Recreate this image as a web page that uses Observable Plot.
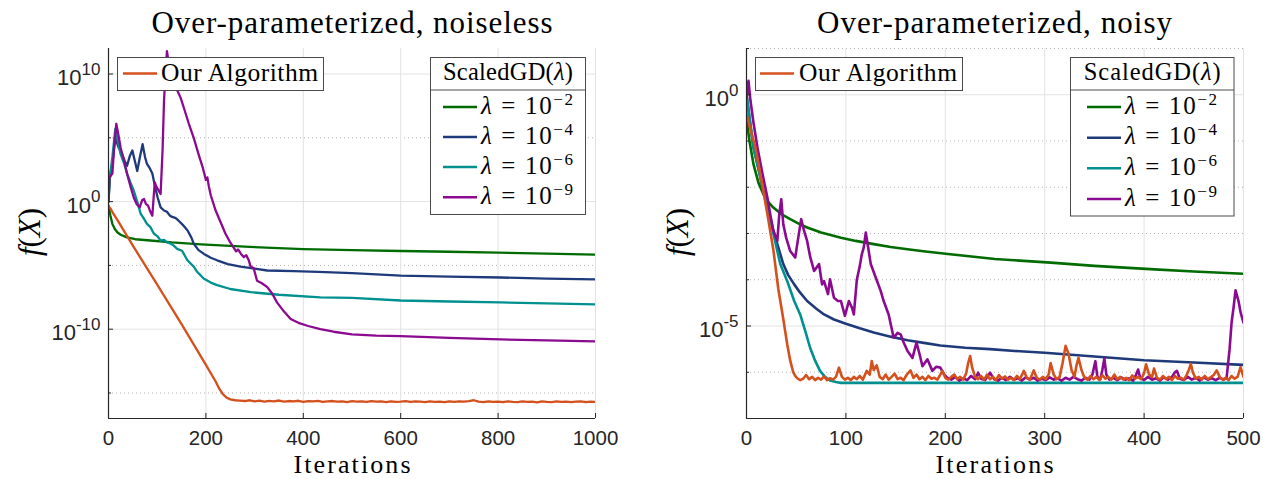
<!DOCTYPE html>
<html>
<head>
<meta charset="utf-8">
<script src="https://cdn.jsdelivr.net/npm/d3@7"></script>
<script src="https://cdn.jsdelivr.net/npm/@observablehq/plot@0.6"></script>
<style>
  html, body { margin: 0; padding: 0; background: #fff; }
  #wrap { position: relative; width: 1270px; height: 479px; overflow: hidden; background: #fff; }
  .panel { position: absolute; top: 0; }
</style>
</head>
<body>
<div id="wrap">
  <div id="left" class="panel" style="left:0px"></div>
  <div id="right" class="panel" style="left:635px"></div>
</div>
<script>
// ---------------- DATA (iteration, log10 f(X)) ----------------
const seriesNames = ["Our Algorithm", "λ = 10^−2", "λ = 10^−4", "λ = 10^−6", "λ = 10^−9"];
const seriesColors = ["#d4501c", "#006b00", "#1f3a7a", "#009090", "#8c0a8f"];

const leftXTicks = [0, 200, 400, 600, 800, 1000];
const leftYTicks = [1e-10, 1, 1e10];
const leftMinorY = [1e-15, 1e-5, 1e5];
const rightXTicks = [0, 100, 200, 300, 400, 500];
const rightYTicks = [1e-5, 1];
const rightMinorY = [1e-6, 1e-4, 1e-3, 1e-2, 1e-1, 10];
const rightMinorTicks = [1e-7, 1e-6, 1e-4, 1e-3, 1e-2, 1e-1, 10];

const leftGreen = [[0,-0.3],[4,-1.1],[8,-1.75],[13,-2.15],[18,-2.4],[25,-2.6],[38,-2.8],[55,-2.95],[86,-3.05],[130,-3.2],[190,-3.35],[290,-3.55],[400,-3.72],[500,-3.8],[600,-3.87],[700,-3.93],[800,-4.0],[900,-4.08],[1000,-4.15]];

const leftBlue = [[0,0],[2,1.5],[4,2.2],[8,3.0],[14,5.0],[20,4.3],[28,3.7],[33,3.2],[38,2.8],[44,3.6],[49,4.0],[54,3.2],[59,2.4],[64,3.4],[70,4.5],[75,3.5],[79,2.95],[85,2.6],[90,2.2],[96,1.1],[101,0.3],[107,-0.45],[114,-0.7],[120,-0.8],[126,-1.1],[131,-1.2],[138,-1.3],[144,-1.5],[152,-1.8],[162,-2.25],[170,-2.8],[175,-3.3],[185,-3.8],[196,-4.1],[210,-4.4],[223,-4.6],[245,-4.9],[271,-5.1],[300,-5.25],[326,-5.4],[380,-5.45],[431,-5.5],[500,-5.6],[600,-5.8],[700,-5.88],[805,-5.95],[900,-6.03],[1000,-6.1]];

const leftTeal = [[0,0],[3,2.0],[8,3.5],[14,5.7],[20,4.6],[25,3.7],[32,3.0],[38,2.2],[45,1.5],[52,0.85],[59,0.0],[66,-0.95],[72,-1.3],[79,-1.75],[86,-2.0],[93,-2.5],[100,-2.7],[107,-3.05],[114,-3.0],[120,-3.2],[128,-3.3],[134,-3.45],[141,-3.7],[151,-3.85],[162,-4.6],[175,-5.1],[182,-5.5],[196,-6.05],[210,-6.35],[223,-6.55],[250,-6.85],[292,-7.1],[350,-7.3],[435,-7.5],[500,-7.55],[600,-7.75],[700,-7.83],[805,-7.9],[900,-7.98],[1000,-8.05]];

const leftPurple = [[0,0],[2,1.9],[8,2.2],[12,4.5],[16,6.1],[20,5.3],[25,4.2],[32,3.2],[38,2.2],[45,1.2],[52,0.3],[58,-0.2],[64,-0.45],[69,0.1],[73,0.2],[77,-0.2],[81,-0.3],[86,-0.8],[90,-1.1],[93,0.5],[95,1.5],[98,1.2],[101,1.0],[104,0.8],[107,0.6],[111,4.0],[114,7.9],[117,10.0],[120,11.8],[124,10.8],[131,9.45],[140,8.8],[148,8.15],[156,7.2],[165,6.1],[175,5.0],[185,3.7],[194,2.6],[200,1.7],[203,1.9],[206,1.2],[210,0.5],[220,-0.7],[230,-1.6],[240,-2.5],[250,-3.2],[257,-3.6],[262,-3.9],[266,-3.75],[272,-4.1],[278,-4.35],[283,-4.2],[288,-4.6],[292,-5.1],[298,-5.2],[305,-6.2],[315,-6.4],[326,-6.7],[336,-7.2],[346,-7.9],[360,-8.6],[374,-9.2],[390,-9.5],[410,-9.75],[435,-10.0],[462,-10.2],[500,-10.4],[550,-10.5],[600,-10.55],[700,-10.68],[805,-10.8],[900,-10.88],[1000,-10.95]];

const leftOurs = [[0,-0.35],[5,-0.6],[10,-0.95],[20,-1.55],[50,-3.45],[100,-6.5],[150,-9.6],[200,-12.8],[220,-14.1],[228,-14.7],[235,-15.1],[242,-15.35],[250,-15.5],[260,-15.57],[270,-15.6],
[280,-15.63],[290,-15.57],[300,-15.65],[310,-15.6],[320,-15.67],[330,-15.62],[340,-15.65],[350,-15.59],[360,-15.68],[370,-15.63],[380,-15.65],[390,-15.61],[400,-15.69],[410,-15.64],[420,-15.66],[430,-15.62],[440,-15.7],[450,-15.65],[460,-15.63],[470,-15.68],[480,-15.65],[490,-15.71],[500,-15.64],[510,-15.67],[520,-15.65],[530,-15.7],[540,-15.63],[550,-15.68],[560,-15.66],[570,-15.71],[580,-15.65],[590,-15.69],[600,-15.67],[610,-15.63],[620,-15.7],[630,-15.65],[640,-15.68],[650,-15.72],[660,-15.65],[670,-15.69],[680,-15.67],[690,-15.71],[700,-15.66],[710,-15.7],[720,-15.65],[730,-15.68],[740,-15.63],[750,-15.57],[760,-15.68],[770,-15.71],[780,-15.66],[790,-15.7],[800,-15.67],[810,-15.72],[820,-15.65],[830,-15.69],[840,-15.71],[850,-15.66],[860,-15.7],[870,-15.67],[880,-15.73],[890,-15.65],[900,-15.69],[910,-15.71],[920,-15.66],[930,-15.7],[940,-15.67],[950,-15.72],[960,-15.68],[970,-15.65],[980,-15.71],[990,-15.68],[1000,-15.7]];

const rightGreen = [[0,-0.53],[3,-1.0],[7,-1.5],[12,-1.9],[17,-2.15],[22,-2.32],[27,-2.44],[35,-2.58],[44,-2.69],[52,-2.78],[61,-2.87],[75,-2.98],[95,-3.09],[110,-3.16],[128,-3.23],[145,-3.29],[162,-3.34],[180,-3.39],[205,-3.45],[250,-3.55],[306,-3.63],[350,-3.7],[406,-3.77],[450,-3.82],[500,-3.87]];

const rightBlue = [[0,0],[3,-0.5],[7,-1.14],[12,-1.6],[17,-2.08],[22,-2.5],[27,-2.94],[32,-3.3],[37,-3.66],[42,-3.9],[48,-4.1],[54,-4.28],[61,-4.46],[70,-4.62],[78,-4.75],[88,-4.86],[100,-4.95],[114,-5.05],[128,-5.14],[145,-5.23],[162,-5.31],[180,-5.37],[195,-5.42],[220,-5.47],[245,-5.5],[270,-5.54],[300,-5.58],[350,-5.66],[400,-5.74],[450,-5.79],[500,-5.84]];

const rightTeal = [[0,0],[3,-0.5],[7,-1.14],[12,-1.6],[17,-2.08],[22,-2.5],[27,-3.0],[34,-3.66],[41,-4.03],[48,-4.46],[54,-4.75],[59,-5.1],[64,-5.47],[69,-5.75],[74,-5.97],[79,-6.1],[84,-6.18],[90,-6.21],[95,-6.23],[150,-6.23],[250,-6.23],[350,-6.23],[450,-6.23],[500,-6.23]];

const rightPurple = [[0,-0.09],[2,0.3],[4,-0.13],[7,-0.6],[11,-1.14],[16,-1.7],[21,-2.22],[24,-2.6],[27,-2.94],[31,-3.16],[33,-2.58],[35,-2.26],[37,-2.8],[40,-3.1],[44,-3.38],[49,-3.52],[52,-3.1],[55,-2.69],[58,-2.95],[61,-3.16],[64,-3.5],[68,-3.81],[73,-3.66],[76,-4.1],[78,-4.03],[82,-4.31],[84,-3.99],[88,-4.39],[92,-4.46],[95,-4.46],[99,-4.78],[103,-4.46],[106,-4.6],[108,-4.75],[111,-4.0],[114,-3.7],[116,-3.45],[118,-3.3],[120,-2.98],[122,-3.25],[125,-3.66],[130,-3.95],[135,-4.24],[138,-4.46],[143,-4.75],[148,-5.25],[152,-5.15],[155,-5.18],[158,-5.35],[162,-5.54],[167,-5.69],[171,-5.36],[174,-5.6],[177,-5.87],[182,-5.72],[187,-5.97],[191,-5.88],[195,-5.9],[199,-6.05],
[202,-6.12],[206,-6.16],[210,-6.1],[214,-6.18],[218,-6.13],[222,-6.17],[226,-6.08],[230,-6.15],[233,-6.01],[236,-6.14],[240,-6.17],[245,-6.01],[249,-6.15],[253,-6.18],[257,-6.12],[261,-6.17],[265,-6.1],[269,-6.16],[273,-6.13],[277,-6.18],[281,-6.11],[285,-6.16],[289,-6.12],[293,-6.18],[297,-6.14],[301,-6.17],[305,-6.11],[309,-6.16],[313,-6.13],[317,-6.18],[321,-6.12],[325,-6.16],[329,-6.1],[333,-6.15],[337,-6.18],[341,-6.12],[345,-6.16],[348,-6.05],[351,-5.76],[353,-6.1],[356,-6.15],[358,-5.95],[360,-5.7],[362,-6.05],[365,-6.16],[369,-6.12],[373,-6.17],[377,-6.11],[381,-6.16],[385,-6.13],[389,-6.18],[392,-6.05],[394,-5.94],[396,-6.12],[400,-6.17],[404,-6.1],[408,-6.16],[412,-6.13],[416,-6.18],[420,-6.11],[424,-6.16],[428,-6.1],[431,-6.0],[433,-5.97],[436,-6.14],[440,-6.17],[444,-6.1],[448,-6.16],[452,-6.12],[456,-6.18],[460,-6.11],[464,-6.16],[468,-6.13],[472,-6.17],[476,-6.12],[480,-6.16],[483,-6.12],[486,-5.5],[488,-4.93],[490,-4.6],[492,-4.23],[495,-4.46],[497,-4.7],[500,-4.93]];

const rightOurs = [[0,-0.42],[4,-0.75],[9,-1.14],[15,-1.85],[21,-2.58],[27,-3.35],[32,-4.2],[37,-4.85],[41,-5.4],[44,-5.75],[47,-6.0],[49,-6.08],
[51,-6.13],[54,-6.17],[57,-6.14],[60,-6.06],[63,-6.15],[66,-6.1],[69,-6.17],[72,-6.12],[75,-6.16],[78,-6.09],[81,-6.17],[84,-6.13],[87,-6.16],[90,-6.1],[93,-5.9],[96,-6.1],[99,-6.16],[102,-6.12],[105,-6.17],[108,-6.1],[111,-6.15],[114,-6.08],[117,-6.16],[121,-5.97],[124,-6.05],[126,-5.76],[128,-5.95],[131,-5.85],[134,-6.1],[137,-6.15],[140,-6.05],[143,-6.16],[146,-6.1],[149,-6.03],[152,-6.15],[155,-6.12],[158,-6.17],[161,-6.06],[165,-5.96],[168,-6.12],[171,-6.05],[174,-6.15],[177,-6.1],[180,-6.17],[183,-6.08],[186,-6.14],[189,-6.12],[192,-6.16],[195,-6.05],[197,-5.97],[200,-6.12],[203,-6.16],[206,-6.1],[209,-6.05],[212,-6.15],[215,-6.1],[218,-6.16],[221,-6.02],[223,-5.8],[225,-5.65],[227,-5.9],[230,-6.1],[233,-6.15],[236,-6.08],[239,-6.16],[242,-6.05],[245,-6.15],[248,-6.1],[251,-6.17],[254,-6.06],[257,-6.14],[260,-6.09],[263,-6.16],[266,-6.12],[269,-6.17],[272,-6.08],[275,-6.15],[279,-5.97],[282,-6.12],[285,-6.16],[289,-5.96],[292,-6.12],[295,-6.16],[298,-6.1],[301,-6.15],[304,-6.05],[306,-5.8],[309,-6.05],[312,-6.15],[315,-6.1],[318,-5.8],[321,-5.43],[324,-5.6],[327,-5.95],[330,-6.1],[332,-5.85],[334,-5.69],[337,-5.95],[340,-6.12],[343,-6.16],[346,-6.08],[349,-6.15],[352,-6.1],[355,-6.17],[358,-6.06],[361,-6.14],[364,-6.1],[367,-6.16],[370,-6.05],[373,-6.15],[376,-6.1],[379,-6.16],[382,-6.12],[385,-6.17],[388,-6.07],[391,-6.14],[394,-6.1],[397,-6.15],[400,-6.02],[402,-5.83],[405,-6.05],[408,-6.1],[410,-5.92],[413,-6.12],[416,-6.16],[419,-6.08],[422,-6.15],[425,-6.1],[428,-6.17],[431,-6.08],[434,-6.14],[437,-6.12],[440,-6.16],[443,-6.05],[445,-5.95],[447,-5.82],[449,-6.0],[452,-6.14],[455,-6.1],[458,-6.16],[461,-6.08],[464,-6.15],[467,-6.11],[470,-6.06],[473,-5.96],[476,-6.1],[479,-6.16],[482,-6.12],[485,-6.17],[488,-6.08],[491,-6.14],[494,-6.1],[497,-5.89],[500,-6.1]];

// ---------------- PANELS ----------------
const H = 479, MT = 48, MB = 61;
function supTicks(svg, supSize) {
  const ns = "http://www.w3.org/2000/svg";
  svg.querySelectorAll('g[aria-label="y-axis tick label"] text').forEach(t => {
    const [b, e] = t.textContent.split("^");
    t.textContent = "";
    t.setAttribute("y", "0.5em");
    const t1 = document.createElementNS(ns, "tspan"); t1.textContent = b;
    const t2 = document.createElementNS(ns, "tspan"); t2.textContent = e;
    t2.setAttribute("font-size", supSize); t2.setAttribute("dy", "-0.6em");
    t.appendChild(t1); t.appendChild(t2);
  });
}

function panel(el, cfg) {
  const fw = cfg.width - cfg.ml - cfg.mr;
  const fh = H - MT - MB;
  const lines = cfg.series.map((s, i) => Plot.line(s, {
    x: d => d[0], y: d => Math.pow(10, d[1]),
    stroke: cfg.colors[i], strokeWidth: cfg.lw, strokeLinejoin: "round", clip: true
  }));
  const svg = Plot.plot({
    width: cfg.width, height: H,
    marginLeft: cfg.ml, marginRight: cfg.mr, marginTop: MT, marginBottom: MB,
    x: {domain: cfg.xDomain},
    y: {type: "log", domain: cfg.yDomain},
    style: {fontFamily: "'Liberation Sans', Arial, sans-serif", color: "#262626", background: "transparent", overflow: "visible"},
    marks: [
      Plot.ruleY(cfg.minorGrid, {y: d => d, stroke: "#b5b5b5", strokeDasharray: "1,3", strokeWidth: 1}),
      Plot.gridY(cfg.yTicks, {stroke: "#e2e2e2", strokeOpacity: 1, strokeWidth: 1}),
      Plot.gridX(cfg.xTicks, {stroke: "#e2e2e2", strokeOpacity: 1, strokeWidth: 1}),
      ...lines,
      Plot.ruleX([cfg.xDomain[0]], {stroke: "#262626", strokeWidth: 1.2}),
      Plot.ruleY([cfg.yDomain[0]], {stroke: "#262626", strokeWidth: 1.2}),
      Plot.tickX(cfg.xTicks, {x: d => d, insetTop: fh - 5, stroke: "#262626"}),
      Plot.tickY(cfg.yTicks, {y: d => d, insetRight: fw - 5, stroke: "#262626"}),
      Plot.tickY(cfg.minorTicks, {y: d => d, insetRight: fw - 3, stroke: "#262626"}),
      Plot.axisX(cfg.xTicks, {tickSize: 0, tickPadding: 12, label: null, fontSize: 20.5, tickFormat: d => String(d)}),
      Plot.axisY(cfg.yTicks, {tickSize: 0, tickPadding: 8, label: null, fontSize: 22, tickFormat: d => "10^" + Math.round(Math.log10(d))})
    ]
  });
  supTicks(svg, 17);
  el.appendChild(svg);
}

// draw order: green, blue, teal, purple, ours
panel(document.getElementById("left"), {
  width: 635, ml: 108, mr: 40, xDomain: [0, 1000], yDomain: [1e-17, 1e12],
  xTicks: leftXTicks, yTicks: leftYTicks, minorGrid: leftMinorY, minorTicks: leftMinorY,
  series: [leftGreen, leftBlue, leftTeal, leftPurple, leftOurs],
  colors: [seriesColors[1], seriesColors[2], seriesColors[3], seriesColors[4], seriesColors[0]], lw: 2.3
});
panel(document.getElementById("right"), {
  width: 635, ml: 111, mr: 27, xDomain: [0, 500], yDomain: [1e-7, 10],
  xTicks: rightXTicks, yTicks: rightYTicks, minorGrid: rightMinorY, minorTicks: rightMinorTicks,
  series: [rightGreen, rightBlue, rightTeal, rightPurple, rightOurs],
  colors: [seriesColors[1], seriesColors[2], seriesColors[3], seriesColors[4], seriesColors[0]], lw: 2.6
});

// ---------------- OVERLAY: titles, axis labels, legends ----------------
const ov = d3.select("#wrap").append("svg")
  .attr("width", 1270).attr("height", 479)
  .style("position", "absolute").style("left", "0px").style("top", "0px");

function addText(g, x, y, parts, size, anchor, len) {
  const t = g.append("text").attr("x", x).attr("y", y)
    .style("font-family", '"Liberation Serif", "Times New Roman", serif')
    .style("font-size", size + "px")
    .attr("text-anchor", anchor || "start").attr("fill", "#000");
  if (len) t.attr("textLength", len).attr("lengthAdjust", "spacing");
  parts.forEach(p => {
    const s = t.append("tspan").text(p.t);
    if (p.i) s.style("font-style", "italic");
    if (p.s) s.style("font-size", p.s + "px");
    if (p.dy) s.attr("dy", p.dy);
  });
  return t;
}
function labelParts(name) {
  if (name.indexOf("^") < 0) return [{t: name}];
  const [b, e] = name.split("^");
  return [{t: "λ", i: true}, {t: b.slice(1)}, {t: e, s: 17, dy: -9}];
}

const panelsOv = [
  {cx: 352, title: "Over-parameterized, noiseless", titleLen: 401, itLen: 117, fx: 40,
   ours: {x: 117.5, w: 206, lx: 123, tx: 161, tlen: 157},
   box: {x: 430.5, w: 155, h: 157, lx: 443, tx: 481, tlen: 92, hlen: 130, rows: [107, 137, 167, 197.3]}},
  {cx: 994.5, title: "Over-parameterized, noisy", titleLen: 355, itLen: 118, fx: 688,
   ours: {x: 755.5, w: 207, lx: 760, tx: 799, tlen: 158},
   box: {x: 1070.5, w: 163.5, h: 158.5, lx: 1087, tx: 1125, tlen: 92, hlen: 137, rows: [107, 137.7, 168.3, 199]}}
];

panelsOv.forEach(p => {
  addText(ov, p.cx, 33, [{t: p.title}], 31, "middle", p.titleLen);
  addText(ov, p.cx, 473, [{t: "Iterations"}], 26, "middle", p.itLen);
  const g = ov.append("g").attr("transform", `translate(${p.fx},232) rotate(-90)`);
  addText(g, 0, 0, [{t: "f", i: true}, {t: "("}, {t: "X", i: true}, {t: ")"}], 31, "middle", null);

  // "Our Algorithm" box
  ov.append("rect").attr("x", p.ours.x).attr("y", 57.5).attr("width", p.ours.w).attr("height", 33)
    .attr("fill", "#fff").attr("stroke", "#4a4a4a").attr("stroke-width", 1);
  ov.append("line").attr("x1", p.ours.lx).attr("x2", p.ours.lx + 34).attr("y1", 73.5).attr("y2", 73.5)
    .attr("stroke", seriesColors[0]).attr("stroke-width", 2.6);
  addText(ov, p.ours.tx, 80.5, labelParts(seriesNames[0]), 25.5, "start", p.ours.tlen);

  // ScaledGD box
  const b = p.box;
  ov.append("rect").attr("x", b.x).attr("y", 57.5).attr("width", b.w).attr("height", b.h)
    .attr("fill", "#fff").attr("stroke", "#4a4a4a").attr("stroke-width", 1);
  ov.append("line").attr("x1", b.x).attr("x2", b.x + b.w).attr("y1", 90).attr("y2", 90)
    .attr("stroke", "#4a4a4a").attr("stroke-width", 1);
  addText(ov, b.x + b.w / 2, 80, [{t: "ScaledGD("}, {t: "λ", i: true}, {t: ")"}], 24.5, "middle", b.hlen);
  b.rows.forEach((cy, i) => {
    ov.append("line").attr("x1", b.lx).attr("x2", b.lx + 34).attr("y1", cy).attr("y2", cy)
      .attr("stroke", seriesColors[i + 1]).attr("stroke-width", 2.6);
    addText(ov, b.tx, cy + 6.5, labelParts(seriesNames[i + 1]), 25, "start", b.tlen);
  });
});
</script>
</body>
</html>
